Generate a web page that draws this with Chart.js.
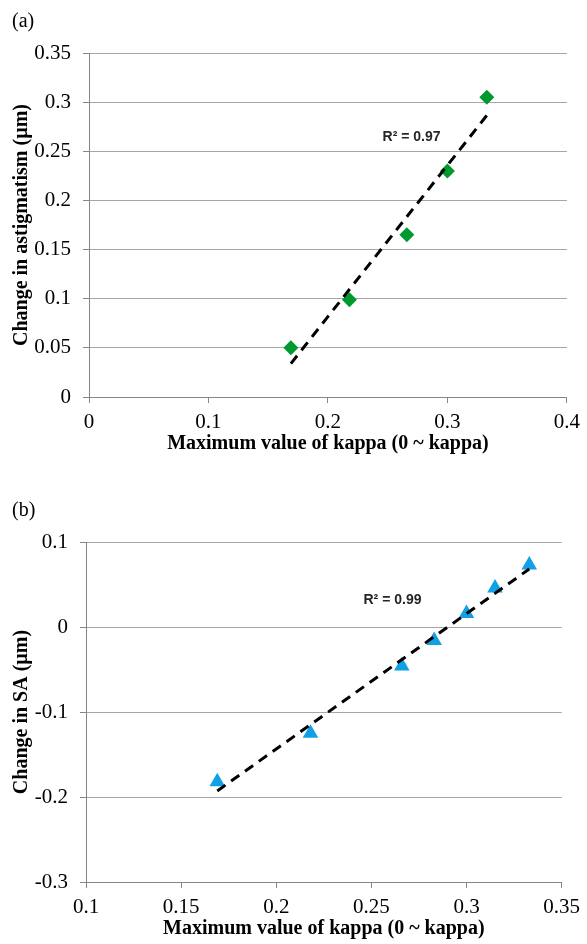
<!DOCTYPE html>
<html>
<head>
<meta charset="utf-8">
<script src="https://cdn.jsdelivr.net/npm/chart.js@4.4.1/dist/chart.umd.min.js"></script>
<style>
    html, body { margin: 0; padding: 0; background: #fff; overflow: hidden; }
    .panel { position: absolute; left: 0; }
    .tag { position: absolute; font: 20px 'Liberation Serif', 'Times New Roman', serif; color: #000; }
</style>
</head>
<body>
<div class="panel" style="top:0;"><canvas id="chartA" width="587" height="470"></canvas></div>
<div class="panel" style="top:470px;"><canvas id="chartB" width="587" height="474"></canvas></div>
<div class="tag" style="left:12px; top:9px;">(a)</div>
<div class="tag" style="left:12px; top:498px;">(b)</div>
<script>
// (a) kappa vs change in astigmatism
const kappaA = [0.169, 0.218, 0.266, 0.300, 0.333];
const astigmatismA = [0.050, 0.099, 0.165, 0.230, 0.305];
const xTicksA = [0, 0.1, 0.2, 0.3, 0.4];
const xLabelsA = ['0', '0.1', '0.2', '0.3', '0.4'];
const yTicksA = [0, 0.05, 0.1, 0.15, 0.2, 0.25, 0.3, 0.35];
const yLabelsA = ['0', '0.05', '0.1', '0.15', '0.2', '0.25', '0.3', '0.35'];

// (b) kappa vs change in SA
const kappaB = [0.169, 0.218, 0.266, 0.283, 0.300, 0.315, 0.333];
const saB = [-0.182, -0.125, -0.046, -0.016, 0.016, 0.046, 0.073];
const xTicksB = [0.1, 0.15, 0.2, 0.25, 0.3, 0.35];
const xLabelsB = ['0.1', '0.15', '0.2', '0.25', '0.3', '0.35'];
const yTicksB = [-0.3, -0.2, -0.1, 0, 0.1];
const yLabelsB = ['-0.3', '-0.2', '-0.1', '0', '0.1'];

const serif = "'Liberation Serif', 'Times New Roman', serif";
const gridColor = '#a6a6a6';
const axisColor = '#868686';

// 선형 추세선 (최소제곱) - 데이터 범위 양 끝 두 점
function linearFit(xs, ys) {
    const n = xs.length;
    const mx = xs.reduce((a, b) => a + b, 0) / n;
    const my = ys.reduce((a, b) => a + b, 0) / n;
    let sxy = 0, sxx = 0;
    for (let i = 0; i < n; i++) {
        sxy += (xs[i] - mx) * (ys[i] - my);
        sxx += (xs[i] - mx) * (xs[i] - mx);
    }
    const slope = sxy / sxx;
    const icpt = my - slope * mx;
    const x0 = Math.min(...xs), x1 = Math.max(...xs);
    return [{ x: x0, y: icpt + slope * x0 }, { x: x1, y: icpt + slope * x1 }];
}

// R² 텍스트 그리기
const r2Label = {
    id: 'r2Label',
    afterDatasetsDraw(chart, args, opts) {
        const { ctx, scales: { x, y } } = chart;
        ctx.save();
        ctx.font = 'bold 14px "Liberation Sans", Arial, sans-serif';
        ctx.fillStyle = '#262626';
        ctx.textAlign = 'center';
        ctx.textBaseline = 'middle';
        ctx.fillText(opts.text, x.getPixelForValue(opts.x), y.getPixelForValue(opts.y));
        ctx.restore();
    }
};

function renderPanel(id, p) {
    const points = p.xs.map((v, i) => ({ x: v, y: p.ys[i] }));
    const ctx = document.getElementById(id).getContext('2d');
    new Chart(ctx, {
        type: 'scatter',
        data: {
            datasets: [{
                data: linearFit(p.xs, p.ys),
                showLine: true,
                pointRadius: 0,
                borderColor: '#000',
                borderWidth: 3,
                borderDash: [10, 7],
                order: 0
            }, {
                data: points,
                pointStyle: p.marker,
                pointRadius: p.radius,
                backgroundColor: p.color,
                borderColor: p.color,
                borderWidth: 0,
                order: 1
            }]
        },
        options: {
            responsive: false,
            animation: false,
            layout: { padding: p.padding },
            plugins: {
                legend: { display: false },
                tooltip: { enabled: false },
                r2Label: p.r2
            },
            scales: {
                x: {
                    type: 'linear',
                    min: p.xTicks[0],
                    max: p.xTicks[p.xTicks.length - 1],
                    afterBuildTicks: scale => { scale.ticks = p.xTicks.map(v => ({ value: v })); },
                    afterFit: scale => { scale.height = p.xHeight; },
                    ticks: {
                        autoSkip: false,
                        maxRotation: 0,
                        padding: 7,
                        color: '#000',
                        font: { family: serif, size: 21 },
                        callback: (v, i) => p.xLabels[i]
                    },
                    grid: { drawOnChartArea: false, drawTicks: true, tickLength: 6, tickColor: axisColor },
                    border: { display: true, color: axisColor, width: 1 },
                    title: {
                        display: true,
                        text: 'Maximum value of kappa (0 ~ kappa)',
                        color: '#000',
                        font: { family: serif, size: 20, weight: 'bold' },
                        padding: { top: 0, bottom: p.xTitlePad }
                    }
                },
                y: {
                    type: 'linear',
                    min: p.yTicks[0],
                    max: p.yTicks[p.yTicks.length - 1],
                    afterBuildTicks: scale => { scale.ticks = p.yTicks.map(v => ({ value: v })); },
                    afterFit: scale => { scale.width = p.yWidth; },
                    ticks: {
                        autoSkip: false,
                        padding: 12,
                        color: '#000',
                        font: { family: serif, size: 21 },
                        callback: (v, i) => p.yLabels[i]
                    },
                    grid: { color: gridColor, drawTicks: true, tickLength: 6, tickColor: axisColor },
                    border: { display: true, color: axisColor, width: 1 },
                    title: {
                        display: true,
                        text: p.yTitle,
                        color: '#000',
                        font: { family: serif, size: 20, weight: 'bold' },
                        padding: { top: 10, bottom: 0 }
                    }
                }
            }
        },
        plugins: [r2Label]
    });
}

renderPanel('chartA', {
    xs: kappaA, ys: astigmatismA,
    xTicks: xTicksA, xLabels: xLabelsA, yTicks: yTicksA, yLabels: yLabelsA,
    yTitle: 'Change in astigmatism (µm)',
    marker: 'rectRot', radius: 7.5, color: '#00992e',
    padding: { left: 0, right: 15, top: 53, bottom: 0 },
    yWidth: 89, xHeight: 73, xTitlePad: 14,
    r2: { text: 'R² = 0.97', x: 0.27, y: 0.2645 }
});

renderPanel('chartB', {
    xs: kappaB, ys: saB,
    xTicks: xTicksB, xLabels: xLabelsB, yTicks: yTicksB, yLabels: yLabelsB,
    yTitle: 'Change in SA (µm)',
    marker: 'triangle', radius: 9, color: '#0fa0e6',
    padding: { left: 0, right: 20, top: 72, bottom: 0 },
    yWidth: 86, xHeight: 62, xTitlePad: 3,
    r2: { text: 'R² = 0.99', x: 0.2611, y: 0.0315 }
});
</script>
</body>
</html>
